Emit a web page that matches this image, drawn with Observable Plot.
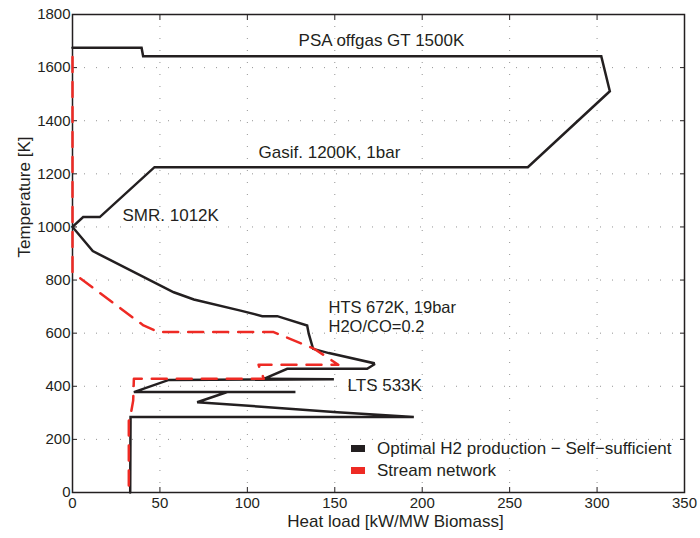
<!DOCTYPE html>
<html>
<head>
<meta charset="utf-8">
<script src="https://cdn.jsdelivr.net/npm/d3@7"></script>
<script src="https://cdn.jsdelivr.net/npm/@observablehq/plot@0.6"></script>
<style>
  body { margin: 0; background: white; }
  #wrap { position: relative; width: 700px; height: 538px; font-family: "Liberation Sans", Arial, sans-serif; }
  .leg { position: absolute; font-size: 17px; color: #231f20; white-space: nowrap; line-height: 1; }
  .sw { position: absolute; width: 14px; height: 7px; }
</style>
</head>
<body>
<div id="wrap"></div>
<script>
// Grand composite curve: optimal H2 production (heat load kW/MW biomass, temperature K)
const optimalQ = [0, 39.5, 40.4, 302.4, 307.3, 260.4, 46.9, 15.6, 6.1, 0, 11.6, 57.9, 69.4, 96.1, 108.5, 117.1, 134.2, 135.1, 137.6, 146.6, 172.3, 172.5, 168.5, 122.8, 109.4, 149.5, 55.1, 35.1, 127.5, 88.5, 71.3, 110, 151.4, 195.2, 33.2, 33];
const optimalT = [1675, 1675, 1643, 1643, 1511, 1225, 1225, 1037, 1037, 1000, 909, 754, 727, 685, 664, 664, 629, 598, 541, 525, 487, 482, 466, 466, 428, 426, 424, 378, 378, 378, 340, 322, 302, 284, 284, 0];
// Stream network
const streamQ = [0, 0, 4.6, 40.6, 49.2, 115, 137.9, 145.7, 152, 106.4, 109.4, 35.1, 34.7, 33.2, 32.2, 32.2];
const streamT = [1640, 830, 806, 629, 604, 604, 542, 509, 481, 481, 428, 428, 346, 290, 270, 0];

const xTicks = [0, 50, 100, 150, 200, 250, 300, 350];
const yTicks = [0, 200, 400, 600, 800, 1000, 1200, 1400, 1600, 1800];

const labelText = ["PSA offgas GT 1500K", "Gasif. 1200K, 1bar", "SMR. 1012K", "HTS 672K, 19bar", "H2O/CO=0.2", "LTS 533K"];
const labelQ = [129.3, 106.4, 28.6, 146.4, 146.4, 157.3];
const labelT = [1702, 1280, 1043, 694, 623, 401];
const labelSize = [17, 17, 17, 16.5, 16.5, 17];

const seriesNames = ["Optimal H2 production \u2212 Self\u2212sufficient", "Stream network"];
const seriesColors = ["#231f20", "#ee2a24"];

const optimal = optimalQ.map((q, i) => ({q, t: optimalT[i]}));
const stream = streamQ.map((q, i) => ({q, t: streamT[i]}));
const labels = labelText.map((s, i) => ({s, q: labelQ[i], t: labelT[i], fs: labelSize[i]}));

const fmt = d => String(d);

const chart = Plot.plot({
  width: 700,
  height: 538,
  marginLeft: 72,
  marginRight: 16,
  marginTop: 14,
  marginBottom: 46,
  style: {fontFamily: "Liberation Sans, Arial, sans-serif", fontSize: "15px", background: "white", color: "#231f20"},
  x: {domain: [0, 350], ticks: xTicks},
  y: {domain: [0, 1800], ticks: yTicks},
  marks: [
    Plot.gridX(xTicks, {stroke: "#666", strokeOpacity: 0.7, strokeDasharray: "1,11"}),
    Plot.gridY(yTicks, {stroke: "#666", strokeOpacity: 0.7, strokeDasharray: "1,11"}),
    Plot.frame({stroke: "#231f20", strokeWidth: 1.5}),
    Plot.axisX(xTicks, {anchor: "bottom", tickSize: -5, tickPadding: 10, tickFormat: fmt, label: null, fontSize: 15, stroke: "#231f20"}),
    Plot.axisX(xTicks, {anchor: "top", tickSize: -5, tickFormat: () => "", label: null, stroke: "#231f20"}),
    Plot.axisY(yTicks, {anchor: "left", tickSize: -5, tickPadding: 7, tickFormat: fmt, label: null, fontSize: 15, stroke: "#231f20"}),
    Plot.axisY(yTicks, {anchor: "right", tickSize: -5, tickFormat: () => "", label: null, stroke: "#231f20"}),
    Plot.line(optimal, {x: "q", y: "t", stroke: seriesColors[0], strokeWidth: 2.5, strokeLinejoin: "miter", strokeMiterlimit: 3}),
    Plot.line(stream, {x: "q", y: "t", stroke: seriesColors[1], strokeWidth: 2.5, strokeDasharray: "15,10"}),
    Plot.text(labels, {x: "q", y: "t", text: "s", textAnchor: "start", fontSize: "fs", fill: "#231f20"}),
    Plot.text(["Heat load [kW/MW Biomass]"], {frameAnchor: "bottom", dx: 17, dy: 34, fontSize: 17, fill: "#231f20"}),
    Plot.text(["Temperature [K]"], {frameAnchor: "left", dx: -48, dy: 4, rotate: -90, fontSize: 17, fill: "#231f20"})
  ]
});

const wrap = document.getElementById("wrap");
wrap.appendChild(chart);

// Legend (inside the plot area, bottom right)
const legTop = [445, 467];
seriesNames.forEach((name, i) => {
  const sw = document.createElement("div");
  sw.className = "sw";
  sw.style.left = "351px";
  sw.style.top = legTop[i] + "px";
  sw.style.background = seriesColors[i];
  wrap.appendChild(sw);
  const tx = document.createElement("div");
  tx.className = "leg";
  tx.style.left = "377px";
  tx.style.top = (legTop[i] - 5) + "px";
  tx.textContent = name;
  wrap.appendChild(tx);
});
</script>
</body>
</html>
